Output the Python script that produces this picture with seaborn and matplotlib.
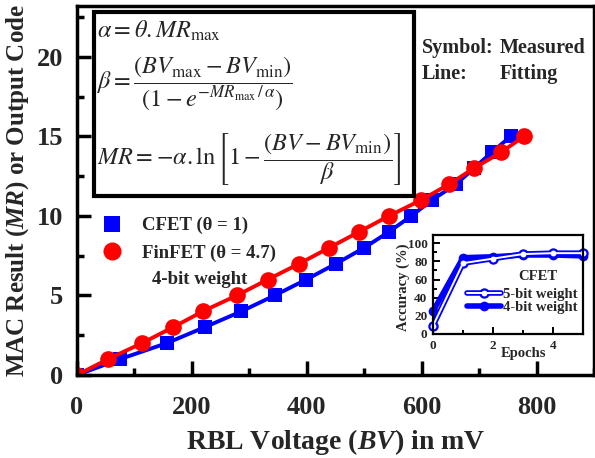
import matplotlib
matplotlib.use("Agg")
import matplotlib.pyplot as plt
import seaborn as sns
import pandas as pd
from matplotlib.lines import Line2D
from matplotlib.patches import Rectangle
from matplotlib.ticker import MultipleLocator

# ---------------- data ----------------
mr_code = [0, 1, 2, 3, 4, 5, 6, 7, 8, 9, 10, 11, 12, 13, 14, 15]
cfet_bv = [0, 75, 156, 222, 286, 344, 399, 451, 500, 543, 582, 618, 660, 691, 722, 755]
finfet_bv = [0, 54, 113, 167, 219, 278, 332, 387, 439, 491, 543, 599, 648, 691, 738, 778]

epochs = [0, 1, 2, 3, 4, 5]
acc_5bit = [9, 78, 83, 88, 89, 89]
acc_4bit = [25, 84, 85, 87, 87, 86]

x_ticks = [0, 200, 400, 600, 800]
y_ticks = [0, 5, 10, 15, 20]
acc_ticks = [0, 20, 40, 60, 80, 100]
epoch_ticks = [0, 2, 4]

# ---------------- style ----------------
sns.set_style("ticks")
plt.rcParams['font.family'] = ['Liberation Serif', 'DejaVu Serif']
plt.rcParams['font.weight'] = 'normal'
plt.rcParams['axes.labelweight'] = 'bold'
plt.rcParams['mathtext.fontset'] = 'stix'
plt.rcParams['mathtext.it'] = 'Liberation Serif:italic:bold'
plt.rcParams['mathtext.rm'] = 'Liberation Serif:bold'
plt.rcParams['mathtext.bf'] = 'Liberation Serif:bold'

W, H = 595, 458
def fx(x):
    return x / W
def fy(y):
    return 1 - y / H

BLUE = '#0000ff'
RED = '#ff0000'

fig = plt.figure(figsize=(W / 100, H / 100), dpi=100)
ax = fig.add_axes([fx(77), fy(375), (594 - 77) / W, (375 - 6) / H])

df_c = pd.DataFrame({'BV': cfet_bv, 'MR': mr_code})
df_f = pd.DataFrame({'BV': finfet_bv, 'MR': mr_code})
sns.lineplot(data=df_c, x='BV', y='MR', ax=ax, color=BLUE, lw=2.8, marker='s',
             markersize=10, markeredgewidth=0, sort=False, estimator=None)
sns.lineplot(data=df_f, x='BV', y='MR', ax=ax, color=RED, lw=2.8, marker='o',
             markersize=12, markeredgewidth=0, sort=False, estimator=None)

ax.set_xlim(0, 900)
ax.set_ylim(0, 23.2)
ax.set_xticks(x_ticks)
ax.set_yticks(y_ticks)
ax.xaxis.set_minor_locator(MultipleLocator(100))
ax.yaxis.set_minor_locator(MultipleLocator(2.5))
for s in ax.spines.values():
    s.set_linewidth(2.5)
    s.set_color('black')
ax.tick_params(which='both', direction='in', width=2.5, color='black')
ax.tick_params(which='major', length=10)
ax.tick_params(which='minor', length=5)
ax.tick_params(axis='x', labelsize=19, pad=15)
ax.tick_params(axis='y', labelsize=19, pad=10)
for lab in ax.get_xticklabels() + ax.get_yticklabels():
    lab.set_fontweight('bold')

ax.set_xlabel(r"RBL Voltage ($BV$) in mV", fontsize=20, fontweight='bold', labelpad=6,
              math_fontfamily='custom')
ax.set_ylabel(r"MAC Result ($MR$) or Output Code", fontsize=18, fontweight='bold', labelpad=4,
              math_fontfamily='custom')

# legend of main plot
handles = [
    Line2D([], [], ls='none', marker='s', markersize=11, color=BLUE, markeredgewidth=0),
    Line2D([], [], ls='none', marker='o', markersize=13, color=RED, markeredgewidth=0),
]
leg = ax.legend(handles, ["CFET (θ = 1)", "FinFET (θ = 4.7)"], loc='upper left',
                bbox_to_anchor=(fx(103), fy(217)), bbox_transform=fig.transFigure,
                frameon=False, fontsize=13.5, handlelength=1.0, handletextpad=1.1,
                labelspacing=0.55, borderpad=0, borderaxespad=0)
for t in leg.get_texts():
    t.set_fontweight('bold')
fig.text(fx(152), fy(280), "4-bit weight", fontsize=13.5, fontweight='bold',
         ha='left', va='center')

# Symbol / Line annotations
fig.text(fx(422), fy(48), "Symbol:", fontsize=14.5, fontweight='bold', ha='left', va='center')
fig.text(fx(500), fy(48), "Measured", fontsize=14.5, fontweight='bold', ha='left', va='center')
fig.text(fx(422), fy(74), "Line:", fontsize=14.5, fontweight='bold', ha='left', va='center')
fig.text(fx(500), fy(74), "Fitting", fontsize=14.5, fontweight='bold', ha='left', va='center')

# equation box
rect = Rectangle((fx(94), fy(196)), (414 - 94) / W, (196 - 12) / H, transform=fig.transFigure,
                 facecolor='white', edgecolor='black', lw=3, zorder=5)
fig.add_artist(rect)
eq_kw = dict(fontsize=17.5, ha='left', math_fontfamily='stix', zorder=6, fontweight='normal')
fig.text(fx(97), fy(38), r"$\alpha = \theta.MR_{\mathrm{max}}$", va='baseline', **eq_kw)
fig.text(fx(97), fy(84),
         r"$\beta = \dfrac{(BV_{\mathrm{max}} - BV_{\mathrm{min}})}{(1 - e^{-MR_{\mathrm{max}}\,/\,\alpha})}$",
         va='center', **eq_kw)
fig.text(fx(97), fy(159),
         r"$MR = -\alpha.\ln\left[1 - \dfrac{(BV - BV_{\mathrm{min}})}{\beta}\right]$",
         va='center', **eq_kw)

# ---------------- inset ----------------
ax_in = fig.add_axes([fx(433), fy(334), 150 / W, 99 / H])
df_4 = pd.DataFrame({'Epoch': epochs, 'Acc': acc_4bit})
df_5 = pd.DataFrame({'Epoch': epochs, 'Acc': acc_5bit})
sns.lineplot(data=df_4, x='Epoch', y='Acc', ax=ax_in, color=BLUE, lw=4, marker='o',
             markersize=7, markeredgewidth=0, sort=False, estimator=None, clip_on=False)
sns.lineplot(data=df_5, x='Epoch', y='Acc', ax=ax_in, color=BLUE, lw=4, marker='o',
             markersize=7.5, markeredgewidth=0, sort=False, estimator=None, clip_on=False)
sns.lineplot(data=df_5, x='Epoch', y='Acc', ax=ax_in, color='white', lw=1.4, marker='o',
             markersize=4.2, markeredgewidth=0, sort=False, estimator=None, clip_on=False)
ax_in.set_xlim(0, 5)
ax_in.set_ylim(0, 109)
ax_in.set_xticks(epoch_ticks)
ax_in.set_yticks(acc_ticks)
ax_in.xaxis.set_minor_locator(MultipleLocator(1))
ax_in.yaxis.set_minor_locator(MultipleLocator(10))
for s in ax_in.spines.values():
    s.set_linewidth(1.6)
    s.set_color('black')
ax_in.tick_params(which='both', direction='in', width=1.4, color='black', labelsize=9.5, pad=4)
ax_in.tick_params(which='major', length=5)
ax_in.tick_params(which='minor', length=3)
for lab in ax_in.get_xticklabels() + ax_in.get_yticklabels():
    lab.set_fontweight('bold')
ax_in.set_xlabel("Epochs", fontsize=10.5, fontweight='bold')
ax_in.xaxis.set_label_coords(0.6, -0.13)
ax_in.set_ylabel("Accuracy (%)", fontsize=10.5, fontweight='bold')
ax_in.yaxis.set_label_coords(-0.15, 0.47)

h5 = (Line2D([], [], color=BLUE, lw=4, marker='o', markersize=7.5, markeredgewidth=0),
      Line2D([], [], color='white', lw=1.4, marker='o', markersize=4.2, markeredgewidth=0))
h4 = Line2D([], [], color=BLUE, lw=4, marker='o', markersize=7, markeredgewidth=0)
leg2 = ax_in.legend([h5, h4], ["5-bit weight", "4-bit weight"], loc='upper left',
                    bbox_to_anchor=(fx(467), fy(288)), bbox_transform=fig.transFigure,
                    frameon=False, fontsize=10.5, handlelength=2.3, handletextpad=0.2,
                    labelspacing=0.0, borderpad=0, borderaxespad=0)
for t in leg2.get_texts():
    t.set_fontweight('bold')
fig.text(fx(538), fy(277), "CFET", fontsize=10.5, fontweight='bold', ha='center', va='center')

fig.savefig("out.png", dpi=100)
